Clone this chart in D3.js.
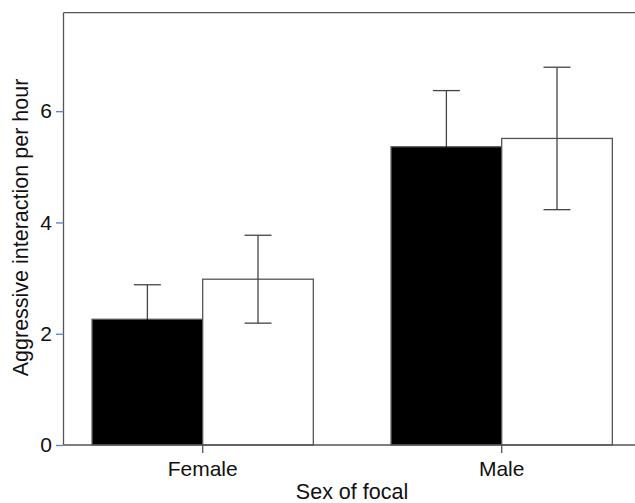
<!DOCTYPE html>
<html>
<head>
<meta charset="utf-8">
<script src="https://cdn.jsdelivr.net/npm/d3@7"></script>
<style>
  body { margin: 0; background: #fff; }
  svg { display: block; font-family: "Liberation Sans", Arial, sans-serif; }
</style>
</head>
<body>
<div id="chart"></div>
<script>
// data
const categories = ["Female", "Male"];
const seriesNames = ["Filled", "Open"];
const filledMeans = [2.26, 5.36];
const filledSE = [0.62, 1.01];
const openMeans = [2.98, 5.51];
const openSE = [0.79, 1.28];
const yTicks = [0, 2, 4, 6];

const chartWidth = 635;
const chartHeight = 503;
const plotLeft = 63.5, plotTop = 12.7, plotBottom = 445;

const svg = d3.select('#chart').append('svg')
  .attr('width', chartWidth)
  .attr('height', chartHeight);

const x = d3.scaleBand().domain(categories)
  .range([53.2, 651.2])
  .paddingInner(0.26)
  .paddingOuter(0.13);
const xSub = d3.scaleBand().domain(seriesNames).range([0, x.bandwidth()]);
const y = d3.scaleLinear().domain([0, 7.77]).range([plotBottom, plotTop]);

const rows = [];
categories.forEach((c, i) => {
  rows.push({cat: c, s: seriesNames[0], v: filledMeans[i], se: filledSE[i], fill: '#000'});
  rows.push({cat: c, s: seriesNames[1], v: openMeans[i], se: openSE[i], fill: '#fff'});
});

// bars
svg.selectAll('rect.bar').data(rows).join('rect')
  .attr('class', 'bar')
  .attr('x', d => x(d.cat) + xSub(d.s))
  .attr('width', xSub.bandwidth())
  .attr('y', d => y(d.v))
  .attr('height', d => y(0) - y(d.v))
  .attr('fill', d => d.fill)
  .attr('stroke', '#555')
  .attr('stroke-width', 1.3);

// error bars (the lower half disappears inside the black bars)
const capHalf = 13.5;
const eb = svg.selectAll('g.err').data(rows).join('g').attr('class', 'err')
  .attr('stroke-width', 1.3);
const cx = d => x(d.cat) + xSub(d.s) + xSub.bandwidth() / 2;
const lowColor = d => d.fill === '#000' ? '#000' : '#444';
eb.append('line')
  .attr('stroke', '#444')
  .attr('x1', cx).attr('x2', cx)
  .attr('y1', d => y(d.v)).attr('y2', d => y(d.v + d.se));
eb.append('line')
  .attr('stroke', lowColor)
  .attr('x1', cx).attr('x2', cx)
  .attr('y1', d => y(d.v - d.se)).attr('y2', d => y(d.v));
eb.append('line')
  .attr('stroke', '#444')
  .attr('x1', d => cx(d) - capHalf).attr('x2', d => cx(d) + capHalf)
  .attr('y1', d => y(d.v + d.se)).attr('y2', d => y(d.v + d.se));
eb.append('line')
  .attr('stroke', lowColor)
  .attr('x1', d => cx(d) - capHalf).attr('x2', d => cx(d) + capHalf)
  .attr('y1', d => y(d.v - d.se)).attr('y2', d => y(d.v - d.se));

// frame
svg.append('line').attr('x1', plotLeft).attr('x2', chartWidth).attr('y1', plotTop).attr('y2', plotTop)
  .attr('stroke', '#555').attr('stroke-width', 1.3);

// y axis
const yAxis = svg.append('g')
  .attr('transform', `translate(${plotLeft},0)`)
  .call(d3.axisLeft(y).tickValues(yTicks).tickSize(7.5).tickPadding(4).tickFormat(d3.format('d')));
yAxis.select('.domain').attr('stroke', '#555').attr('stroke-width', 1.3)
  .attr('d', `M0,${plotTop}V${plotBottom}`);
yAxis.selectAll('.tick line').attr('stroke', '#5b7fd6').attr('stroke-width', 1.3);
yAxis.selectAll('.tick text').attr('font-size', 21).attr('fill', '#111')
  .attr('font-family', '"Liberation Sans", Arial, sans-serif');

// x axis
const xAxis = svg.append('g')
  .attr('transform', `translate(0,${plotBottom})`)
  .call(d3.axisBottom(x).tickSize(8).tickPadding(8));
xAxis.select('.domain').attr('stroke', '#555').attr('stroke-width', 1.3)
  .attr('d', `M${plotLeft},0H${chartWidth}`);
xAxis.selectAll('.tick line').attr('stroke', '#555').attr('stroke-width', 1.3);
xAxis.selectAll('.tick text').attr('font-size', 21).attr('fill', '#111')
  .attr('font-family', '"Liberation Sans", Arial, sans-serif');

// axis titles
svg.append('text')
  .attr('transform', 'translate(28,227.5) rotate(-90)')
  .attr('text-anchor', 'middle')
  .attr('font-size', 21.5)
  .attr('fill', '#111')
  .text('Aggressive interaction per hour');

svg.append('text')
  .attr('x', 352).attr('y', 499)
  .attr('text-anchor', 'middle')
  .attr('font-size', 21.5)
  .attr('fill', '#111')
  .text('Sex of focal');
</script>
</body>
</html>
